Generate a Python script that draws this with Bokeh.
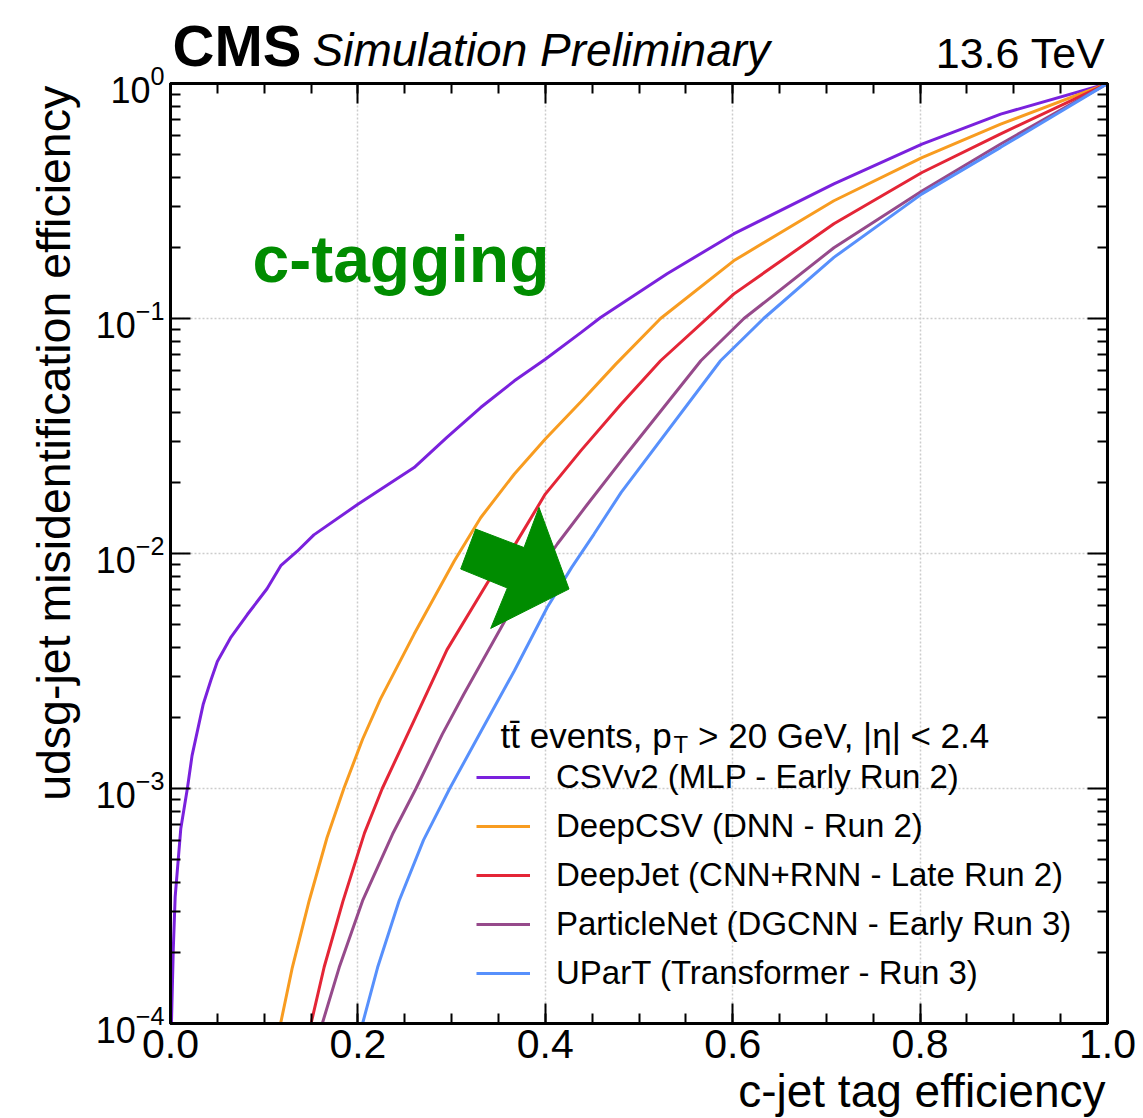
import math
from bokeh.plotting import figure
from bokeh.models import (Range1d, FixedTicker, LinearAxis, LogAxis, Label, Legend,
                          LegendItem, PrintfTickFormatter, CustomJSTickFormatter)
from bokeh.core.properties import value
from bokeh.embed import file_html
from bokeh.resources import INLINE

# ---------------- data ----------------
series_names = [
    "CSVv2 (MLP - Early Run 2)",
    "DeepCSV (DNN - Run 2)",
    "DeepJet (CNN+RNN - Late Run 2)",
    "ParticleNet (DGCNN - Early Run 3)",
    "UParT (Transformer - Run 3)",
]
series_colors = ["#7a21dd", "#f89c20", "#e42536", "#964a8b", "#5790fc"]

csvv2_eff = [0.001, 0.003, 0.005, 0.011, 0.018, 0.023, 0.035, 0.043, 0.050, 0.064, 0.082,
             0.103, 0.118, 0.135, 0.153, 0.200, 0.260, 0.295, 0.331, 0.367, 0.400, 0.438,
             0.459, 0.530, 0.601, 0.708, 0.802, 0.886, 1.000]
csvv2_mis = [1.00e-4, 2.09e-4, 3.47e-4, 6.76e-4, 1.00e-3, 1.38e-3, 2.29e-3, 2.88e-3, 3.47e-3,
             4.37e-3, 5.50e-3, 7.08e-3, 8.91e-3, 1.02e-2, 1.20e-2, 1.62e-2, 2.32e-2, 3.12e-2,
             4.18e-2, 5.43e-2, 6.71e-2, 8.71e-2, 0.101, 0.155, 0.229, 0.374, 0.552, 0.741, 1.0]

deepcsv_eff = [0.1175, 0.130, 0.148, 0.167, 0.185, 0.205, 0.224, 0.260, 0.303, 0.331, 0.367,
               0.400, 0.438, 0.475, 0.523, 0.601, 0.708, 0.802, 0.886, 1.000]
deepcsv_mis = [1.00e-4, 1.73e-4, 3.33e-4, 6.17e-4, 1.00e-3, 1.62e-3, 2.40e-3, 4.54e-3, 9.31e-3,
               1.42e-2, 2.18e-2, 3.07e-2, 4.42e-2, 6.38e-2, 0.100, 0.176, 0.317, 0.484, 0.671, 1.0]

deepjet_eff = [0.150, 0.164, 0.184, 0.207, 0.226, 0.260, 0.295, 0.342, 0.367, 0.400, 0.438,
               0.481, 0.523, 0.601, 0.708, 0.802, 0.886, 1.000]
deepjet_mis = [1.00e-4, 1.74e-4, 3.31e-4, 6.46e-4, 1.00e-3, 1.95e-3, 3.89e-3, 7.94e-3, 1.08e-2,
               1.79e-2, 2.74e-2, 4.33e-2, 6.61e-2, 0.127, 0.253, 0.418, 0.611, 1.0]

pnet_eff = [0.162, 0.180, 0.205, 0.237, 0.262, 0.290, 0.313, 0.359, 0.413, 0.445, 0.481,
            0.566, 0.612, 0.708, 0.802, 0.886, 1.000]
pnet_mis = [1.00e-4, 1.73e-4, 3.33e-4, 6.40e-4, 1.00e-3, 1.70e-3, 2.52e-3, 5.35e-3, 1.10e-2,
            1.62e-2, 2.48e-2, 6.61e-2, 0.100, 0.200, 0.349, 0.553, 1.0]

upart_eff = [0.205, 0.221, 0.244, 0.270, 0.298, 0.331, 0.367, 0.402, 0.428, 0.452, 0.481,
             0.587, 0.633, 0.708, 0.802, 0.886, 1.000]
upart_mis = [1.00e-4, 1.73e-4, 3.33e-4, 6.03e-4, 1.00e-3, 1.74e-3, 3.17e-3, 5.89e-3, 8.71e-3,
             1.21e-2, 1.82e-2, 6.61e-2, 0.100, 0.182, 0.339, 0.535, 1.0]

series_x = [csvv2_eff, deepcsv_eff, deepjet_eff, pnet_eff, upart_eff]
series_y = [csvv2_mis, deepcsv_mis, deepjet_mis, pnet_mis, upart_mis]

x_major = [0.0, 0.2, 0.4, 0.6, 0.8, 1.0]
y_major = [1e-4, 1e-3, 1e-2, 1e-1, 1.0]

# green block arrow annotation (data coordinates)
arrow_x = [0.3097, 0.3257, 0.3773, 0.3933, 0.4253, 0.3417, 0.3595]
arrow_y = [8.59e-3, 1.27e-2, 1.06e-2, 1.57e-2, 7.06e-3, 4.80e-3, 7.13e-3]

# ---------------- styling ----------------
FONT = "Liberation Sans"
GREEN = "#008c00"
X0, X1, Y0, Y1 = 0.0, 1.0, 1e-4, 1.0

x_minor = [round(i * 0.05, 2) for i in range(21)]
y_minor = [m * 10.0 ** e for e in range(-4, 0) for m in range(2, 10)]

p = figure(width=1143, height=1118, frame_width=937, frame_height=940,
           min_border_left=170, min_border_right=36, min_border_top=83, min_border_bottom=95,
           x_range=Range1d(X0, X1), y_range=Range1d(Y0, Y1), y_axis_type="log",
           output_backend="svg", toolbar_location=None,
           background_fill_color="white", border_fill_color="white")

p.outline_line_color = "black"
p.outline_line_width = 3

def style_axis(ax, labels=True, size="40px"):
    ax.axis_line_width = 3
    ax.axis_line_color = "black"
    ax.major_tick_in = 20
    ax.major_tick_out = 0
    ax.minor_tick_in = 10
    ax.minor_tick_out = 0
    ax.major_tick_line_width = 2
    ax.minor_tick_line_width = 2
    ax.major_tick_line_color = "black"
    ax.minor_tick_line_color = "black"
    if labels:
        ax.major_label_text_font = FONT
        ax.major_label_text_font_size = size
        ax.major_label_text_color = "black"
    else:
        ax.major_label_text_font_size = "0px"
        ax.major_label_standoff = 0

xb = p.xaxis[0]
xb.ticker = FixedTicker(ticks=x_major, minor_ticks=x_minor)
xb.formatter = PrintfTickFormatter(format="%.1f")
style_axis(xb, True, "41px")
xb.major_label_standoff = 6

yl = p.yaxis[0]
yl.ticker = FixedTicker(ticks=y_major, minor_ticks=y_minor)
style_axis(yl, True, "36px")
yl.major_label_standoff = 6

xt = LinearAxis(ticker=FixedTicker(ticks=x_major, minor_ticks=x_minor),
                formatter=CustomJSTickFormatter(code="return ''"))
style_axis(xt, False)
p.add_layout(xt, "above")

yr = LogAxis(ticker=FixedTicker(ticks=y_major, minor_ticks=y_minor),
             formatter=CustomJSTickFormatter(code="return ''"))
style_axis(yr, False)
p.add_layout(yr, "right")

for g in (p.xgrid[0], p.ygrid[0]):
    g.grid_line_color = "#cccccc"
    g.grid_line_dash = "2 2"
    g.grid_line_width = 1.5

renderers = []
for xs, ys, col in zip(series_x, series_y, series_colors):
    renderers.append(p.line(xs, ys, line_color=col, line_width=3))

p.patch(arrow_x, arrow_y, fill_color=GREEN, line_color=GREEN, line_width=1)

legend = Legend(items=[LegendItem(label=n, renderers=[r]) for n, r in zip(series_names, renderers)],
                location=(306, 30), label_text_font=FONT, label_text_font_size="33px",
                label_text_color="black", glyph_width=54, glyph_height=40, label_height=40,
                spacing=9, padding=0, margin=0, label_standoff=26,
                border_line_alpha=0, background_fill_alpha=0)
p.add_layout(legend)

def lab(text, x, y, size, style="normal", align="left", color="black"):
    p.add_layout(Label(text=text, x=x, y=y, x_units="screen", y_units="screen",
                       text_font=FONT, text_font_size=size, text_font_style=style,
                       text_align=align, text_baseline="alphabetic", text_color=color))

# texts outside the frame: overlay-level text glyphs anchored at frame corners,
# offset in px (anchor = vertical middle of the text box)
def outer_text(x, y, text, size, style, align, xo, yo, angle=0.0):
    p.text(x=[x], y=[y], text=[text], text_font=value(FONT), text_font_size=value(size),
           text_font_style=style, text_align=align, text_baseline="middle",
           text_color="black", x_offset=xo, y_offset=yo, angle=angle, level="overlay")

outer_text(X0, Y1, "CMS", "58px", "bold", "left", 2, -37.8)
outer_text(X0, Y1, "Simulation Preliminary", "46px", "italic", "left", 142, -33.6)
outer_text(X1, Y1, "13.6 TeV", "43px", "normal", "right", -2, -30.9)
outer_text(X1, Y0, "c-jet tag efficiency", "46px", "normal", "right", -2, 67.4)
outer_text(X0, Y1, "udsg-jet misidentification efficiency", "46.5px", "normal", "right",
           -116.6, 2.3, angle=math.pi / 2)

# legend header with subscript
lab("tt\u0304 events, p", 330, 287.7, "35px")
lab("T", 503, 279, "24px")
lab("> 20 GeV, |\u03b7| < 2.4", 527.5, 287.7, "35px")

# c-tagging annotation
lab("c-tagging", 82, 764.4, "66px", "bold", "left", GREEN)

open("out.html", "w").write(file_html(p, INLINE))
